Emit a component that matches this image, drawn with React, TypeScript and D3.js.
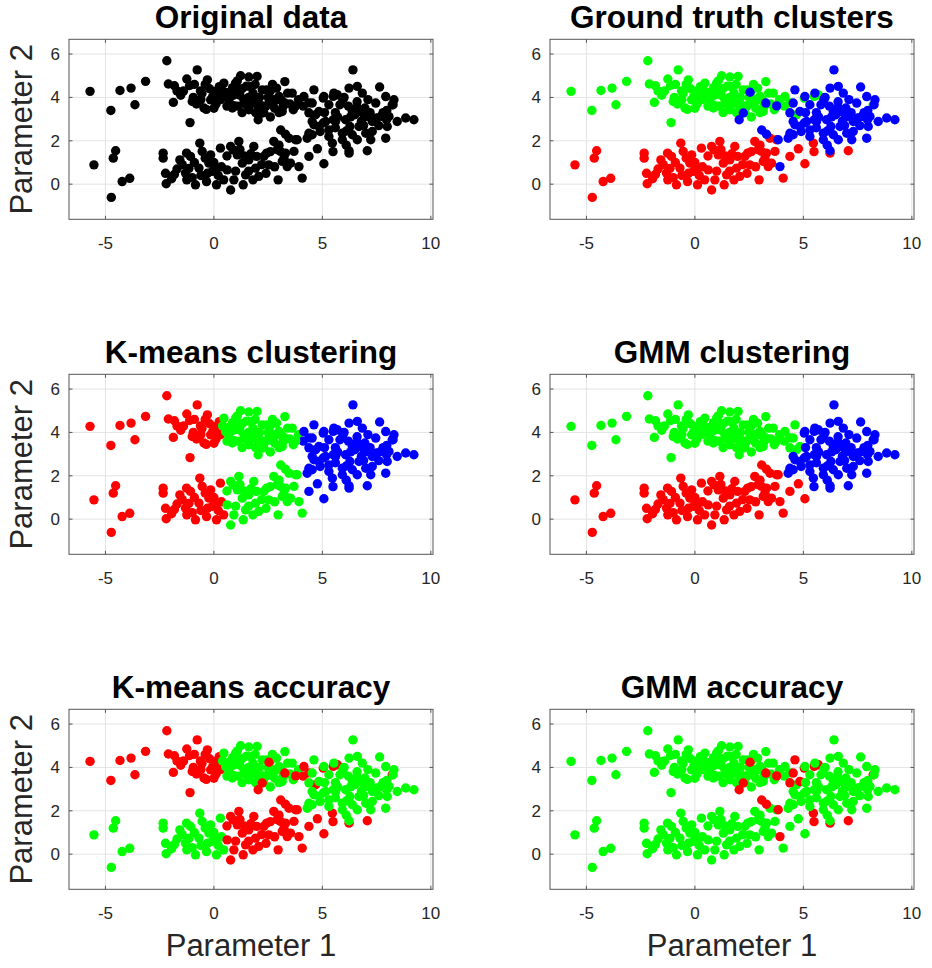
import React from 'react';
import * as d3 from 'd3';

// ---------- data ----------
const xTicks = [-5, 0, 5, 10];
const yTicks = [0, 2, 4, 6];
const xDomain: [number, number] = [-6.68, 10.1];
const yDomain: [number, number] = [-1.62, 6.68];

const panelTitles = [
  'Original data',
  'Ground truth clusters',
  'K-means clustering',
  'GMM clustering',
  'K-means accuracy',
  'GMM accuracy',
];
const xLabel = 'Parameter 1';
const yLabel = 'Parameter 2';

// [x, y, k-means label, GMM label]; true cluster is given by the array
type P = [number, number, string, string];

const greenPts: P[] = [
  [-5.71, 4.28, 'r', 'g'], [-4.75, 3.4, 'r', 'g'], [-4.33, 4.32, 'r', 'g'], [-3.82, 4.43, 'r', 'g'],
  [-3.64, 3.66, 'r', 'g'], [-3.15, 4.74, 'r', 'g'], [-2.17, 5.69, 'r', 'g'], [-2.1, 4.62, 'r', 'g'],
  [-1.82, 4.54, 'r', 'g'], [-1.87, 3.77, 'r', 'g'], [-1.53, 4.1, 'r', 'g'], [-1.4, 4.3, 'r', 'g'],
  [-1.7, 4.3, 'r', 'g'], [-0.9, 4.6, 'r', 'g'],
  [-1.25, 4.85, 'r', 'g'], [-1.12, 4.55, 'r', 'g'], [-1.0, 3.81, 'r', 'g'], [-1.1, 2.84, 'r', 'g'],
  [-0.95, 4.0, 'r', 'g'], [-0.8, 3.7, 'r', 'g'], [-0.77, 5.27, 'r', 'g'], [-0.62, 4.3, 'r', 'g'],
  [-0.6, 3.9, 'r', 'g'], [-0.55, 4.18, 'r', 'g'], [-0.46, 3.51, 'r', 'g'], [-0.4, 4.6, 'r', 'g'],
  [-0.3, 4.81, 'r', 'g'], [-0.35, 3.45, 'r', 'g'], [-0.2, 4.4, 'r', 'g'], [-0.15, 3.89, 'r', 'g'],
  [-0.05, 4.05, 'r', 'g'], [0.0, 3.5, 'r', 'g'], [0.08, 4.27, 'r', 'g'], [0.1, 3.7, 'r', 'g'],
  [0.2, 4.1, 'r', 'g'],
  [0.25, 4.5, 'r', 'g'], [0.3, 3.9, 'r', 'g'], [0.4, 4.3, 'g', 'g'], [0.46, 4.66, 'g', 'g'],
  [0.54, 4.04, 'g', 'g'], [0.62, 4.22, 'g', 'g'], [0.7, 3.8, 'g', 'g'], [0.85, 3.51, 'g', 'g'],
  [0.6, 3.6, 'g', 'g'], [1.2, 4.1, 'g', 'g'],
  [0.86, 4.45, 'g', 'g'], [0.92, 3.62, 'g', 'g'], [0.9, 4.1, 'g', 'g'], [1.0, 4.66, 'g', 'g'],
  [1.08, 4.76, 'g', 'g'], [1.1, 3.6, 'g', 'g'], [1.15, 4.27, 'g', 'g'], [1.23, 5.0, 'g', 'g'],
  [1.3, 3.3, 'g', 'g'], [1.3, 4.4, 'g', 'g'], [1.38, 3.89, 'g', 'g'], [1.45, 3.7, 'g', 'g'],
  [1.5, 4.52, 'g', 'g'], [1.6, 4.0, 'g', 'g'], [1.61, 4.94, 'g', 'g'], [1.61, 3.43, 'g', 'g'],
  [1.7, 3.7, 'g', 'g'],
  [1.69, 4.5, 'g', 'g'], [1.8, 4.2, 'g', 'g'], [1.85, 3.89, 'g', 'g'], [1.9, 4.6, 'g', 'g'],
  [1.92, 3.3, 'g', 'g'], [1.99, 4.97, 'g', 'g'], [2.05, 3.6, 'g', 'g'], [2.1, 4.0, 'g', 'g'],
  [2.2, 3.62, 'g', 'g'], [2.23, 4.35, 'g', 'g'], [2.3, 3.3, 'g', 'g'], [2.43, 4.35, 'g', 'g'],
  [2.4, 3.6, 'g', 'g'], [2.6, 4.3, 'g', 'g'],
  [2.5, 4.0, 'g', 'g'], [2.54, 3.74, 'g', 'g'], [2.6, 3.1, 'g', 'g'], [2.7, 4.6, 'g', 'g'],
  [2.75, 3.9, 'g', 'g'], [2.8, 3.5, 'g', 'g'], [2.89, 4.43, 'g', 'g'], [2.92, 3.89, 'g', 'g'],
  [3.0, 3.3, 'g', 'g'], [3.0, 4.05, 'g', 'g'], [3.15, 3.35, 'g', 'g'], [3.2, 3.6, 'g', 'g'],
  [3.1, 3.9, 'g', 'g'],
  [3.27, 4.73, 'g', 'g'], [3.4, 4.2, 'g', 'g'], [3.5, 3.7, 'g', 'g'], [3.61, 4.2, 'g', 'g'],
  [3.66, 3.43, 'g', 'g'], [3.9, 3.9, 'g', 'g'], [4.12, 3.6, 'b', 'g'], [4.15, 4.04, 'b', 'g'],
  [4.38, 3.75, 'b', 'g'], [4.69, 3.2, 'b', 'g'], [5.04, 3.97, 'b', 'b'], [5.5, 4.05, 'b', 'b'],
  [5.69, 4.12, 'b', 'b'], [8.22, 3.66, 'b', 'b'],
];

const redPts: P[] = [
  [-5.53, 0.89, 'r', 'r'], [-4.53, 1.54, 'r', 'r'], [-4.64, 1.2, 'r', 'r'], [-4.23, 0.12, 'r', 'r'],
  [-3.88, 0.27, 'r', 'r'], [-4.73, -0.61, 'r', 'r'], [-2.34, 1.43, 'r', 'r'], [-2.34, 1.2, 'r', 'r'],
  [-2.23, 0.5, 'r', 'r'], [-2.2, 0.02, 'r', 'r'], [-1.82, 0.45, 'r', 'r'], [-1.95, 0.25, 'r', 'r'],
  [-1.7, 0.7, 'r', 'r'],
  [-1.57, 1.12, 'r', 'r'], [-1.46, 0.9, 'r', 'r'], [-1.31, 0.51, 'r', 'r'], [-1.26, 1.43, 'r', 'r'],
  [-1.25, 0.2, 'r', 'r'], [-1.15, 0.73, 'r', 'r'], [-1.08, 1.28, 'r', 'r'], [-1.0, 0.3, 'r', 'r'],
  [-0.9, 1.0, 'r', 'r'], [-0.85, -0.03, 'r', 'r'], [-0.69, 0.74, 'r', 'r'], [-0.65, 1.89, 'r', 'r'],
  [-0.6, 0.4, 'r', 'r'], [-0.3, 0.5, 'r', 'r'],
  [-0.54, 1.51, 'r', 'r'], [-0.4, 1.2, 'r', 'r'], [-0.34, 0.12, 'r', 'r'], [-0.23, 0.97, 'r', 'r'],
  [-0.15, 1.35, 'r', 'r'], [-0.08, 0.59, 'r', 'r'], [0.0, 1.0, 'r', 'r'], [0.12, -0.03, 'r', 'r'],
  [0.1, 0.7, 'r', 'r'],
  [0.2, 0.4, 'r', 'r'], [0.3, 1.66, 'r', 'r'], [0.35, 0.8, 'r', 'r'], [0.45, 0.2, 'r', 'r'],
  [0.6, 1.3, 'g', 'r'], [0.61, 0.66, 'g', 'r'], [0.77, -0.27, 'g', 'r'], [0.77, 1.74, 'g', 'r'],
  [0.89, 1.58, 'g', 'r'], [0.92, 0.2, 'g', 'r'], [1.0, 0.6, 'g', 'r'], [1.08, 1.35, 'g', 'r'],
  [1.15, 1.97, 'g', 'r'], [1.2, 1.6, 'g', 'r'], [1.31, 0.97, 'g', 'r'], [1.35, -0.03, 'g', 'r'],
  [1.4, 1.3, 'g', 'r'], [1.8, 0.2, 'g', 'r'],
  [1.46, 0.43, 'g', 'r'], [1.6, 0.6, 'g', 'r'], [1.61, 1.12, 'g', 'r'], [1.7, 1.4, 'g', 'r'],
  [1.84, 1.74, 'g', 'r'], [1.92, 0.74, 'g', 'r'], [1.97, 1.28, 'g', 'r'], [2.07, 0.36, 'g', 'r'],
  [2.2, 0.9, 'g', 'r'], [2.3, 1.28, 'g', 'r'], [2.43, 1.43, 'g', 'r'], [2.53, 0.89, 'g', 'r'],
  [2.4, 0.5, 'g', 'r'], [3.0, 1.8, 'g', 'r'],
  [2.6, 1.5, 'g', 'r'], [2.76, 1.97, 'g', 'r'], [2.8, 0.8, 'g', 'r'], [2.92, 1.59, 'g', 'r'],
  [2.96, 0.2, 'g', 'r'], [3.07, 1.51, 'g', 'r'], [3.15, 1.05, 'g', 'r'], [3.23, 1.2, 'g', 'r'],
  [3.3, 1.43, 'g', 'r'], [3.38, 0.81, 'g', 'r'], [3.46, 2.12, 'g', 'r'], [3.53, 0.97, 'g', 'r'],
  [3.69, 1.51, 'g', 'r'], [3.76, 2.05, 'g', 'r'], [4.07, 0.28, 'g', 'r'], [4.38, 1.28, 'b', 'r'],
  [4.77, 1.63, 'b', 'r'], [5.07, 0.94, 'b', 'r'], [5.46, 1.89, 'b', 'b'], [5.49, 1.5, 'b', 'b'],
  [6.23, 1.43, 'b', 'b'], [7.07, 1.54, 'b', 'b'],
];

const bluePts: P[] = [
  [2.04, 2.97, 'g', 'g'], [2.23, 3.28, 'g', 'g'], [2.54, 4.24, 'g', 'g'], [3.27, 3.74, 'g', 'g'],
  [3.77, 3.61, 'g', 'g'], [3.08, 2.5, 'g', 'r'], [3.3, 2.3, 'g', 'r'], [3.84, 2.05, 'g', 'r'],
  [3.92, 0.81, 'g', 'r'], [4.3, 2.12, 'b', 'b'], [4.38, 2.35, 'b', 'b'], [4.38, 3.29, 'b', 'g'],
  [4.53, 3.74, 'b', 'g'], [4.61, 4.35, 'b', 'g'], [4.53, 2.28, 'b', 'b'], [4.61, 2.74, 'b', 'b'],
  [4.53, 2.89, 'b', 'b'], [4.84, 3.35, 'b', 'g'], [4.84, 2.66, 'b', 'b'], [4.9, 2.43, 'b', 'b'],
  [5.04, 2.82, 'b', 'b'], [5.07, 4.04, 'b', 'b'], [5.1, 3.3, 'b', 'b'], [5.15, 2.89, 'b', 'b'],
  [5.3, 3.66, 'b', 'b'], [5.3, 2.5, 'b', 'b'], [5.3, 2.2, 'b', 'b'], [5.5, 2.97, 'b', 'b'],
  [5.53, 4.2, 'b', 'b'], [5.6, 3.3, 'b', 'b'], [5.61, 2.89, 'b', 'b'], [5.81, 3.66, 'b', 'b'],
  [5.7, 3.1, 'b', 'b'], [6.3, 3.1, 'b', 'b'], [6.9, 2.7, 'b', 'b'], [5.6, 2.6, 'b', 'b'],
  [5.95, 3.9, 'b', 'b'], [5.92, 2.35, 'b', 'b'], [5.92, 2.05, 'b', 'b'], [6.0, 4.0, 'b', 'b'],
  [6.07, 2.97, 'b', 'b'], [6.1, 1.8, 'b', 'b'], [6.2, 3.6, 'b', 'b'], [6.23, 4.43, 'b', 'b'],
  [6.23, 1.54, 'b', 'b'], [6.27, 2.66, 'b', 'b'], [6.38, 3.35, 'b', 'b'], [6.38, 2.28, 'b', 'b'],
  [7.2, 3.3, 'b', 'b'], [6.6, 3.55, 'b', 'b'], [6.1, 2.45, 'b', 'b'], [7.8, 3.3, 'b', 'b'],
  [6.41, 5.27, 'b', 'b'], [6.5, 3.2, 'b', 'b'], [6.61, 4.51, 'b', 'b'], [6.6, 3.8, 'b', 'b'],
  [6.61, 2.05, 'b', 'b'], [6.69, 2.66, 'b', 'b'], [6.8, 2.9, 'b', 'b'], [6.76, 3.35, 'b', 'b'],
  [6.84, 4.2, 'b', 'b'], [6.92, 3.2, 'b', 'b'], [6.96, 3.51, 'b', 'b'], [7.0, 2.35, 'b', 'b'],
  [7.03, 3.12, 'b', 'b'], [7.1, 3.9, 'b', 'b'], [7.23, 2.05, 'b', 'b'], [7.3, 2.89, 'b', 'b'],
  [7.3, 2.43, 'b', 'b'], [7.46, 3.74, 'b', 'b'], [7.5, 3.05, 'b', 'b'], [7.6, 2.7, 'b', 'b'],
  [7.64, 4.48, 'b', 'b'], [7.69, 3.12, 'b', 'b'], [7.92, 4.04, 'b', 'b'], [7.92, 2.12, 'b', 'b'],
  [7.96, 2.97, 'b', 'b'], [7.99, 2.66, 'b', 'b'], [7.97, 3.4, 'b', 'b'], [8.07, 3.12, 'b', 'b'],
  [8.26, 3.66, 'b', 'b'], [8.3, 3.89, 'b', 'b'], [8.45, 2.89, 'b', 'b'], [8.84, 3.05, 'b', 'b'],
  [9.22, 2.97, 'b', 'b'],
];

// ---------- layout ----------
const W = 932;
const H = 968;
const colX = [69, 550];
const rowY = [39.3, 374.3, 709.3];
const PW = 364;
const PH = 180;
const R = 4.7;
const FONT = "'Liberation Sans', Arial, Helvetica, sans-serif";
const colorOf: Record<string, string> = { r: '#ff0000', g: '#00ff00', b: '#0000ff' };

type Pt = { x: number; y: number; truth: string; km: string; gmm: string };
const allPts: Pt[] = [
  ...greenPts.map(([x, y, km, gmm]) => ({ x, y, truth: 'g', km, gmm })),
  ...redPts.map(([x, y, km, gmm]) => ({ x, y, truth: 'r', km, gmm })),
  ...bluePts.map(([x, y, km, gmm]) => ({ x, y, truth: 'b', km, gmm })),
];

const colorFns: ((p: Pt) => string)[] = [
  () => '#000000',
  (p) => colorOf[p.truth],
  (p) => colorOf[p.km],
  (p) => colorOf[p.gmm],
  (p) => (p.km === p.truth ? '#00ff00' : '#ff0000'),
  (p) => (p.gmm === p.truth ? '#00ff00' : '#ff0000'),
];

function Panel({ idx }: { idx: number }) {
  const col = idx % 2;
  const row = Math.floor(idx / 2);
  const left = colX[col];
  const top = rowY[row];
  const x = d3.scaleLinear().domain(xDomain).range([left, left + PW]);
  const y = d3.scaleLinear().domain(yDomain).range([top + PH, top]);
  const tk = 3.5;
  const fill = colorFns[idx];
  const clipId = `clip${idx}`;
  return (
    <g>
      <defs>
        <clipPath id={clipId}>
          <rect x={left} y={top} width={PW} height={PH} />
        </clipPath>
      </defs>
      <rect x={left} y={top} width={PW} height={PH} fill="#ffffff" />
      {xTicks.map((t) => (
        <line key={'gx' + t} x1={x(t)} x2={x(t)} y1={top} y2={top + PH} stroke="#e3e3e3" strokeWidth={1} />
      ))}
      {yTicks.map((t) => (
        <line key={'gy' + t} x1={left} x2={left + PW} y1={y(t)} y2={y(t)} stroke="#e3e3e3" strokeWidth={1} />
      ))}
      <g clipPath={`url(#${clipId})`}>
        {allPts.map((p, i) => (
          <circle key={i} cx={x(p.x)} cy={y(p.y)} r={R} fill={fill(p)} />
        ))}
      </g>
      {xTicks.map((t) => (
        <g key={'tx' + t}>
          <line x1={x(t)} x2={x(t)} y1={top + PH} y2={top + PH - tk} stroke="#555" />
          <line x1={x(t)} x2={x(t)} y1={top} y2={top + tk} stroke="#555" />
          <text x={x(t)} y={top + PH + 30} textAnchor="middle" fontSize={17} fill="#262626" fontFamily={FONT}>
            {t}
          </text>
        </g>
      ))}
      {yTicks.map((t) => (
        <g key={'ty' + t}>
          <line x1={left} x2={left + tk} y1={y(t)} y2={y(t)} stroke="#555" />
          <line x1={left + PW} x2={left + PW - tk} y1={y(t)} y2={y(t)} stroke="#555" />
          <text x={left - 9} y={y(t) + 6} textAnchor="end" fontSize={17} fill="#262626" fontFamily={FONT}>
            {t}
          </text>
        </g>
      ))}
      <rect x={left} y={top} width={PW} height={PH} fill="none" stroke="#555" strokeWidth={1} />
      <text
        x={left + PW / 2}
        y={top - 11}
        textAnchor="middle"
        fontSize={31.5}
        fontWeight="bold"
        fill="#000"
        fontFamily={FONT}
      >
        {panelTitles[idx]}
      </text>
      {col === 0 && (
        <text
          transform={`translate(32, ${top + PH / 2}) rotate(-90)`}
          textAnchor="middle"
          fontSize={31}
          fill="#262626"
          fontFamily={FONT}
        >
          {yLabel}
        </text>
      )}
      {row === 2 && (
        <text x={left + PW / 2} y={956} textAnchor="middle" fontSize={31} fill="#262626" fontFamily={FONT}>
          {xLabel}
        </text>
      )}
    </g>
  );
}

export default function App() {
  return (
    <svg
      width={W}
      height={H}
      style={{ position: 'absolute', left: 0, top: 0, display: 'block', background: '#fff' }}
    >
      <rect x={0} y={0} width={W} height={H} fill="#ffffff" />
      {[0, 1, 2, 3, 4, 5].map((i) => (
        <Panel key={i} idx={i} />
      ))}
    </svg>
  );
}
